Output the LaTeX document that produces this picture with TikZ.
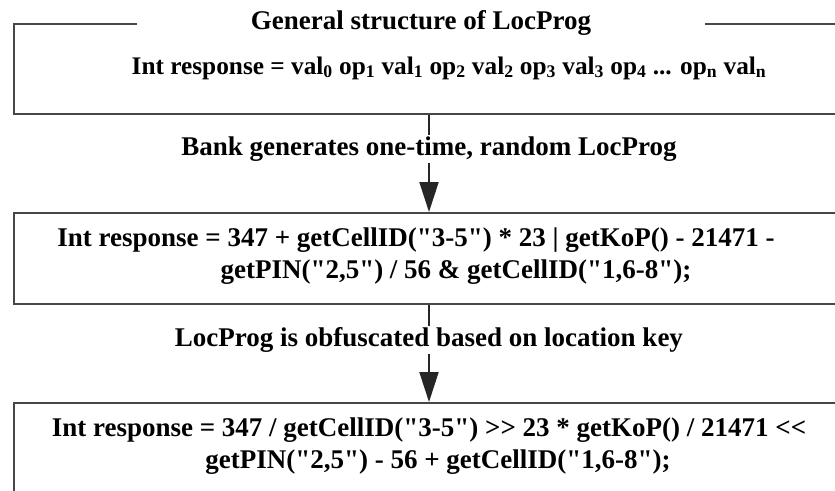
\documentclass[tikz,border=0pt]{standalone}
\usepackage{fontspec}
\setmainfont{Liberation Serif}[Ligatures=TeXOff]
\usetikzlibrary{arrows.meta}
\begin{document}
\begin{tikzpicture}[x=1pt,y=-1pt,
  frame/.style={draw=black!72, line width=2pt, inner sep=0pt},
  txt/.style={font=\bfseries\fontsize{27}{32}\selectfont, align=center, inner sep=1pt},
  flow/.style={draw=black!85, line width=2pt},
  tip/.style={-{Triangle[length=30pt,width=19pt]}}]
\useasboundingbox (0,0) rectangle (835,490);
\clip (0,0) rectangle (835,490);

% boxes, their right sides run past the page edge
\node[frame, minimum width=850pt, minimum height=90pt, anchor=north west] (box1) at (13,23) {};
\node[frame, minimum width=850pt, minimum height=91pt, anchor=north west] (box2) at (13,212) {};
\node[frame, minimum width=850pt, minimum height=140pt, anchor=north west] (box3) at (13,402) {};

% heading that breaks the top edge of the first box
\node[txt, fill=white, minimum width=568pt] (title) at (421,23) {General structure of LocProg};
\node[txt, font=\bfseries\fontsize{25.3}{30}\selectfont] (gen) at (449,68) {Int response = val\textsubscript{0} op\textsubscript{1} val\textsubscript{1} op\textsubscript{2} val\textsubscript{2} op\textsubscript{3} val\textsubscript{3} op\textsubscript{4} ... op\textsubscript{n} val\textsubscript{n}};

\node[txt] (prog) at (416,256) {Int response = 347 + getCellID("3-5") * 23 | getKoP() - 21471 -\\
\hspace*{80pt}getPIN("2,5") / 56 \& getCellID("1,6-8");};
\node[txt] (obf) at (429,446) {Int response = 347 / getCellID("3-5") >> 23 * getKoP() / 21471 <<\\
\hspace*{18pt}getPIN("2,5") - 56 + getCellID("1,6-8");};

% step labels
\node[txt] (s1) at (429,149) {Bank generates one-time, random LocProg};
\node[txt] (s2) at (429,340) {LocProg is obfuscated based on location key};

% connectors
\draw[flow] (box1.south -| s1) -- (s1.north);
\draw[flow, tip] (s1.south) -- (box2.north -| s1);
\draw[flow] (box2.south -| s2) -- (s2.north);
\draw[flow, tip] (s2.south) -- (box3.north -| s2);
\end{tikzpicture}
\end{document}
